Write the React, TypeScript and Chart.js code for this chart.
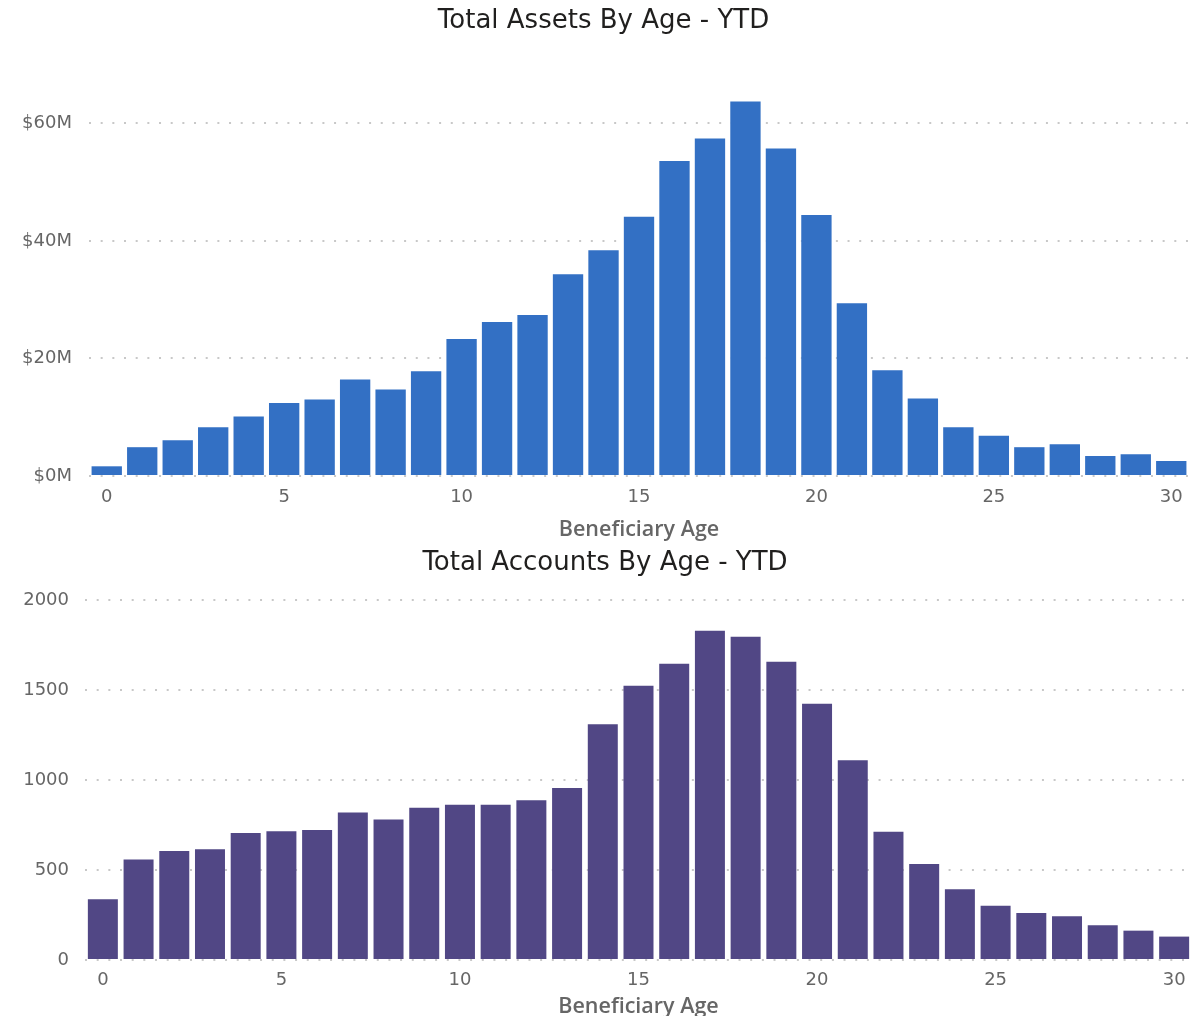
import { useEffect, useRef } from 'react';
import { Chart, registerables } from 'chart.js';

Chart.register(...registerables);

const ages = ['0', '1', '2', '3', '4', '5', '6', '7', '8', '9', '10', '11', '12', '13', '14', '15', '16', '17', '18', '19', '20', '21', '22', '23', '24', '25', '26', '27', '28', '29', '30'];
const shownAgeLabels = ['0', '5', '10', '15', '20', '25', '30'];

const assetsMillions = [1.65, 4.9, 6.1, 8.3, 10.1, 12.4, 13.0, 16.4, 14.7, 17.8, 23.3, 26.2, 27.4, 34.3, 38.4, 44.1, 53.6, 57.4, 63.7, 55.7, 44.4, 29.4, 18.0, 13.2, 8.3, 6.85, 4.9, 5.4, 3.4, 3.7, 2.55];
const accountCounts = [337, 558, 606, 615, 706, 715, 722, 820, 781, 846, 863, 863, 887, 955, 1310, 1523, 1646, 1829, 1796, 1657, 1423, 1110, 713, 533, 393, 302, 261, 243, 193, 163, 130];

const assetTicks = [0, 20, 40, 60];
const accountTicks = [0, 500, 1000, 1500, 2000];

const TICK_FONT = "'DejaVu Sans', sans-serif";
const TITLE_FONT = "'DejaVu Sans', sans-serif";
const AXIS_TITLE_FONT = "'Open Sans', 'DejaVu Sans', sans-serif";

type ChartProps = {
  top: number;
  height: number;
  title: string;
  values: number[];
  color: string;
  yMax: number;
  yTicks: number[];
  yFormat: (v: number) => string;
  yWidth: number;
  yPad: number;
  rightPad: number;
  xHeight: number;
  titlePadTop: number;
  titlePadBottom: number;
  titleShift: number;
  xTickPad: number;
  axisTitlePadBottom: number;
  barPct: number;
};

function BarChart(p: ChartProps) {
  const ref = useRef<HTMLCanvasElement | null>(null);
  useEffect(() => {
    if (!ref.current) return;
    const shiftTitle = {
      id: 'shiftTitle',
      afterLayout(chart: any) {
        const tb = chart.titleBlock;
        if (tb) {
          tb.left += p.titleShift;
          tb.right += p.titleShift;
        }
      },
    };
    const chart = new Chart(ref.current, {
      type: 'bar',
      data: {
        labels: ages,
        datasets: [
          {
            data: p.values,
            backgroundColor: p.color,
            borderWidth: 0,
            categoryPercentage: 1,
            barPercentage: p.barPct,
          },
        ],
      },
      plugins: [shiftTitle],
      options: {
        responsive: false,
        animation: false,
        devicePixelRatio: 1,
        layout: { padding: { left: 0, right: p.rightPad, top: 0, bottom: 0 } },
        plugins: {
          legend: { display: false },
          tooltip: { enabled: false },
          title: {
            display: true,
            text: p.title,
            color: '#201f1e',
            font: { family: TITLE_FONT, size: 26, weight: 'normal', lineHeight: 1.2 },
            padding: { top: p.titlePadTop, bottom: p.titlePadBottom },
          },
        },
        scales: {
          x: {
            type: 'category',
            offset: true,
            grid: { display: false, drawTicks: false },
            border: { display: false },
            ticks: {
              autoSkip: false,
              maxRotation: 0,
              padding: p.xTickPad,
              color: '#666666',
              font: { family: TICK_FONT, size: 18, lineHeight: 1.2 },
              callback: (_v: any, i: number) => (shownAgeLabels.includes(ages[i]) ? ages[i] : ''),
            },
            title: {
              display: true,
              text: 'Beneficiary Age',
              color: '#666666',
              font: { family: AXIS_TITLE_FONT, size: 21.5, weight: 600, lineHeight: 1.2 },
              padding: { top: 0, bottom: p.axisTitlePadBottom },
            },
            afterFit: (axis: any) => {
              axis.height = p.xHeight;
            },
          },
          y: {
            type: 'linear',
            min: 0,
            max: p.yMax,
            grid: {
              color: '#c8c8c8',
              lineWidth: 2,
              drawTicks: false,
            },
            border: { display: false, dash: [2, 9.67] },
            ticks: {
              padding: p.yPad,
              color: '#666666',
              font: { family: TICK_FONT, size: 18, lineHeight: 1.2 },
              callback: (v: any) => p.yFormat(Number(v)),
            },
            afterBuildTicks: (axis: any) => {
              axis.ticks = p.yTicks.map((v) => ({ value: v }));
            },
            afterFit: (axis: any) => {
              axis.width = p.yWidth;
            },
          },
        },
      },
    });
    return () => chart.destroy();
  }, []);
  return (
    <canvas
      ref={ref}
      width={1195}
      height={p.height}
      style={{ position: 'absolute', left: 0, top: p.top, display: 'block' }}
    />
  );
}

export default function App() {
  return (
    <div style={{ position: 'absolute', left: 0, top: 0, width: 1195, height: 1016, overflow: 'hidden', background: '#ffffff' }}>
      <BarChart
        top={0}
        height={545}
        title="Total Assets By Age - YTD"
        values={assetsMillions}
        color="#3370c4"
        yMax={66}
        yTicks={assetTicks}
        yFormat={(v) => `$${v}M`}
        yWidth={89}
        yPad={17}
        rightPad={6}
        xHeight={69}
        titlePadTop={5.5}
        titlePadBottom={51.3}
        titleShift={9}
        xTickPad={10.2}
        axisTitlePadBottom={2}
        barPct={0.855}
      />
      <BarChart
        top={545}
        height={477}
        title="Total Accounts By Age - YTD"
        values={accountCounts}
        color="#514785"
        yMax={2000}
        yTicks={accountTicks}
        yFormat={(v) => String(v)}
        yWidth={85}
        yPad={16}
        rightPad={3}
        xHeight={62}
        titlePadTop={2.4}
        titlePadBottom={21.4}
        titleShift={9}
        xTickPad={9.2}
        axisTitlePadBottom={2}
        barPct={0.84}
      />
    </div>
  );
}
